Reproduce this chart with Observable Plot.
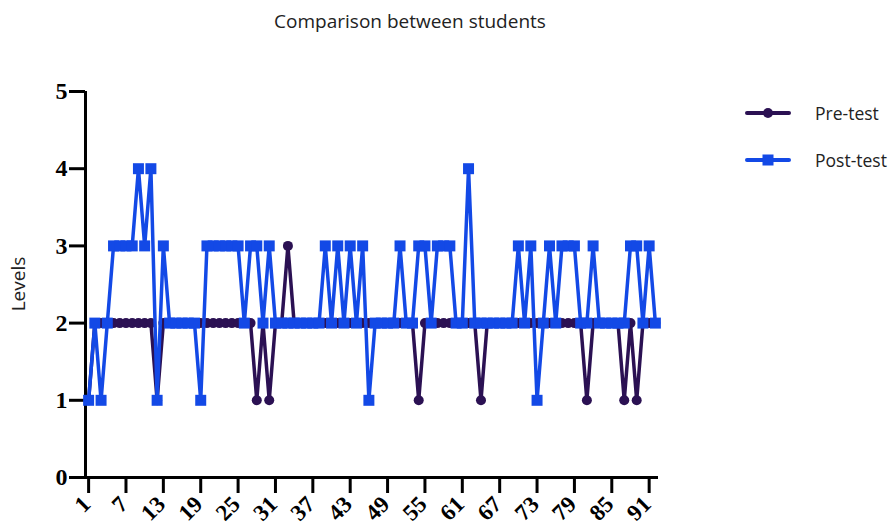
<!DOCTYPE html>
<html>
<head>
<meta charset="utf-8">
<script src="https://cdn.jsdelivr.net/npm/d3@7"></script>
<script src="https://cdn.jsdelivr.net/npm/@observablehq/plot@0.6"></script>
<style>
  html, body { margin: 0; padding: 0; background: #fff; }
  #wrap { position: relative; width: 890px; height: 529px; overflow: hidden; font-family: "Open Sans", "Lato", sans-serif; }
  #title { position: absolute; top: 8px; left: 0; width: 820px; text-align: center; font-size: 19px; color: #222; }
  #ylab { position: absolute; left: 18px; top: 284px; transform: translate(-50%, -50%) rotate(-90deg); font-size: 19px; color: #222; white-space: nowrap; }
  .leg { position: absolute; left: 745px; height: 24px; display: flex; align-items: center; font-size: 17.5px; color: #222; }
  .leg svg { margin-right: 24px; }
  #chart { position: absolute; left: 0; top: 0; }
</style>
</head>
<body>
<div id="wrap">
  <div id="chart"></div>
  <div id="title"></div>
  <div id="ylab"></div>
  <div id="legend"></div>
</div>
<script>
const titleText = "Comparison between students";
const yLabel = "Levels";
const seriesNames = ["Pre-test", "Post-test"];
const students = d3.range(1, 93);
const preTest = [
  1,2,2,2,2,2,2,2,2,2,
  2,1,2,2,2,2,2,2,2,2,
  2,2,2,2,2,2,2,1,2,1,
  2,2,3,2,2,2,2,2,2,2,
  2,2,2,2,2,2,2,2,2,2,
  2,2,2,1,2,2,2,2,2,2,
  2,2,2,1,2,2,2,2,2,2,
  2,2,2,2,2,2,2,2,2,2,
  1,2,2,2,2,2,1,2,1,2,
  2,2
];
const postTest = [
  1,2,1,2,3,3,3,3,4,3,
  4,1,3,2,2,2,2,2,1,3,
  3,3,3,3,3,2,3,3,2,3,
  2,2,2,2,2,2,2,2,3,2,
  3,2,3,2,3,1,2,2,2,2,
  3,2,2,3,3,2,3,3,3,2,
  2,4,2,2,2,2,2,2,2,3,
  2,3,1,2,3,2,3,3,3,2,
  2,3,2,2,2,2,2,3,3,2,
  3,2
];
const xTicks = [1,7,13,19,25,31,37,43,49,55,61,67,73,79,85,91];
const yTicks = [0,1,2,3,4,5];

const preColor = "#2b1153";
const postColor = "#1349e6";

const pre = students.map((s, i) => ({student: s, level: preTest[i]}));
const post = students.map((s, i) => ({student: s, level: postTest[i]}));

const axisFont = "'Liberation Serif', 'Times New Roman', serif";

const chart = Plot.plot({
  width: 890,
  height: 529,
  marginLeft: 85,
  marginRight: 232,
  marginTop: 91,
  marginBottom: 52,
  style: {background: "transparent", overflow: "visible"},
  x: {domain: [0.5, 92.5]},
  y: {domain: [0, 5]},
  marks: [
    Plot.axisY({ticks: yTicks, tickFormat: d3.format("d"), tickSize: 16, tickPadding: 2, strokeWidth: 3, stroke: "#000",
      fontSize: 24, fontWeight: "bold", fontFamily: axisFont, fill: "#000", label: null}),
    Plot.axisX({ticks: xTicks, tickFormat: null, text: null, tickSize: 16, strokeWidth: 3, stroke: "#000", label: null}),
    Plot.axisX({ticks: xTicks, tickFormat: d3.format("d"), tickSize: 0, tickPadding: 0, dy: 23, dx: -2,
      tickRotate: -45, textAnchor: "end", lineAnchor: "middle",
      fontSize: 23, fontWeight: "bold", fontFamily: axisFont, fill: "#000", label: null}),
    Plot.ruleX([0.5], {stroke: "#000", strokeWidth: 3}),
    Plot.ruleY([0], {stroke: "#000", strokeWidth: 3}),
    Plot.line(pre, {x: "student", y: "level", stroke: preColor, strokeWidth: 3.5}),
    Plot.dot(pre, {x: "student", y: "level", r: 5, fill: preColor, stroke: "none", symbol: "circle"}),
    Plot.line(post, {x: "student", y: "level", stroke: postColor, strokeWidth: 3.5}),
    Plot.dot(post, {x: "student", y: "level", r: 6.2, fill: postColor, stroke: "none", symbol: "square"})
  ]
});
document.getElementById("chart").appendChild(chart);

document.getElementById("title").textContent = titleText;
document.getElementById("ylab").textContent = yLabel;

const legend = document.getElementById("legend");
const legendItems = [
  {name: seriesNames[0], color: preColor, symbol: "circle", top: 101},
  {name: seriesNames[1], color: postColor, symbol: "square", top: 148}
];
for (const item of legendItems) {
  const div = document.createElement("div");
  div.className = "leg";
  div.style.top = item.top + "px";
  const svg = d3.create("svg").attr("width", 46).attr("height", 24);
  svg.append("line").attr("x1", 2).attr("x2", 44).attr("y1", 12).attr("y2", 12)
    .attr("stroke", item.color).attr("stroke-width", 4).attr("stroke-linecap", "round");
  if (item.symbol === "circle") svg.append("circle").attr("cx", 23).attr("cy", 12).attr("r", 5).attr("fill", item.color);
  else svg.append("rect").attr("x", 17.5).attr("y", 6.5).attr("width", 11).attr("height", 11).attr("fill", item.color);
  div.appendChild(svg.node());
  const span = document.createElement("span");
  span.textContent = item.name;
  div.appendChild(span);
  legend.appendChild(div);
}
</script>
</body>
</html>
